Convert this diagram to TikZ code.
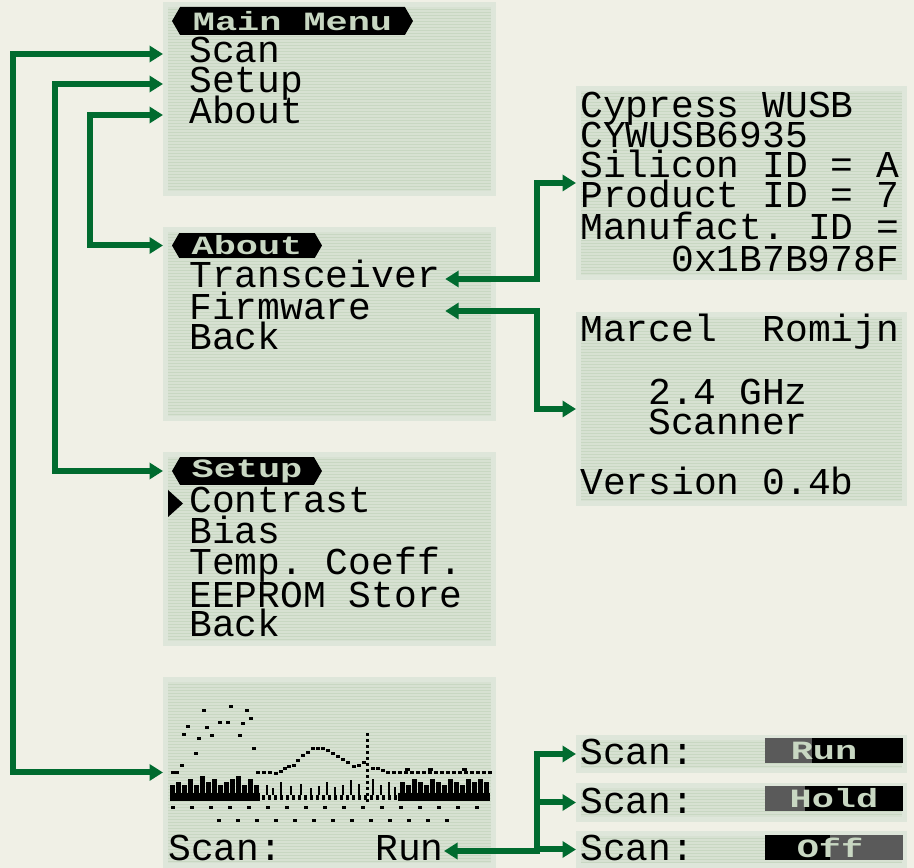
\documentclass[tikz,border=0pt]{standalone}
\usepackage{fontspec}
\newfontfamily\lcdfont{Liberation Mono}
\usepackage{tikz}
\usetikzlibrary{arrows.meta,calc}
\usetikzlibrary{positioning,shapes.symbols}
\definecolor{paper}{HTML}{F0F0E6}
\definecolor{lcdedge}{HTML}{DEE6DA}
\definecolor{lcdback}{HTML}{C8D7C2}
\definecolor{lcdline}{HTML}{D7E1D2}
\definecolor{lcdgray}{HTML}{5A5A5A}
\definecolor{menugreen}{HTML}{006B2F}

\begin{document}
\begin{tikzpicture}[x=0.02cm,y=-0.02cm,>={Triangle[length=0.27cm,width=0.32cm]},
  lcd/.style={fill=lcdedge,inner sep=0,outer sep=0,anchor=north west,
    path picture={
      \fill[lcdback] ([shift={(0.1cm,-0.1cm)}]path picture bounding box.north west)
        rectangle ([shift={(-0.1cm,0.1cm)}]path picture bounding box.south east);
      \clip ([shift={(0.1cm,-0.1cm)}]path picture bounding box.north west)
        rectangle ([shift={(-0.1cm,0.1cm)}]path picture bounding box.south east);
      \foreach \k in {1,...,66}
        \draw[lcdline,line width=0.025cm] ([yshift=-\k*0.06cm]path picture bounding box.north west) -- ++(7cm,0);
    }},
  txt/.style={font=\lcdfont\frenchspacing\fontsize{21.6}{24}\selectfont,anchor=base west,
    inner sep=0,text height=0.4cm,text depth=0.04cm},
  tab/.style={signal,signal to=west and east,signal pointer angle=120,fill=black,text=lcdback,
    inner sep=0,font=\lcdfont\bfseries\fontsize{15}{16}\selectfont},
  tag/.style={text=lcdback,inner sep=0,font=\lcdfont\bfseries\fontsize{15}{16}\selectfont},
  link/.style={draw=menugreen,line width=0.12cm}]

\path[use as bounding box,fill=paper] (0,0) rectangle (914,868);

% main menu
\node[lcd,minimum width=6.66cm,minimum height=3.88cm] (main) at (163,2) {};
\node[tab,minimum width=4.82cm,minimum height=0.56cm] (mainTab) at (292.5,21) {\scalebox{1.4}[1]{Main Menu}};
\node[txt] (mScan) at (189,63) {Scan};
\node[txt] (mSetup) at (189,93) {Setup};
\node[txt] (mAbout) at (189,124) {About};

% about menu
\node[lcd,minimum width=6.66cm,minimum height=3.88cm] (about) at (163,227) {};
\node[tab,minimum width=3cm,minimum height=0.5cm] (aboutTab) at (247,245.5) {\scalebox{1.4}[1]{About}};
\node[txt] (aTrans) at (189,288) {Transceiver};
\node[txt] (aFirm) at (189,320) {Firmware};
\node[txt] (aBack) at (189,350) {Back};

% setup menu
\node[lcd,minimum width=6.66cm,minimum height=3.88cm] (setup) at (163,452) {};
\node[tab,minimum width=3cm,minimum height=0.56cm] (setupTab) at (247,471) {\scalebox{1.4}[1]{Setup}};
\fill (168,490) -- (183,503.5) -- (168,517) -- cycle;
\node[txt] (sContrast) at (189,513) {Contrast};
\node[txt] (sBias) at (189,543) {Bias};
\node[txt] (sTemp) at (189,575) {Temp. Coeff.};
\node[txt] (sStore) at (189,607) {EEPROM Store};
\node[txt] (sBack) at (189,637) {Back};

% scan screen with spectrum
\node[lcd,minimum width=6.66cm,minimum height=3.82cm] (scanscr) at (163,677) {};
\foreach \gx/\gy in {202/709,229/705,245/709,249/717,186/725,205/726,218/721,226/721,241/722,
    182/733,197/737,210/734,238/734,194/752,252/747,180/764,171/771,175/771}
  \fill (\gx,\gy) rectangle ++(4,3);
\foreach \gx/\gy in {256/771,262/771,268/771,274/772,279/770,283/767,287/765,292/764,296/759,
    301/754,306/751,311/747,316/747,321/747,326/749,331/752,336/755,341/758,346/761,352/765,
    357/764,362/761,371/767,376/767,381/769,386/771}
  \fill (\gx,\gy) rectangle ++(4,3);
\foreach \gx in {392,398,...,488}
  \fill (\gx,771) rectangle ++(4,3);
\foreach \gx in {405,428,462}
  \fill (\gx,768) rectangle ++(5,3);
\foreach \gy in {733,739,...,800}
  \fill (366,\gy) rectangle ++(3,3);
\fill (170,793) rectangle (260,801);
\fill (398,793) rectangle (490,801);
\foreach \gx in {262,268,...,396}
  \fill (\gx,795) rectangle ++(3,5);
\foreach \gx/\gy in {170/785,176/782,182/785,188/779,194/785,200/776,206/782,212/779,218/785,
    224/782,230/779,236/776,242/785,248/779,254/785,
    400/782,406/785,412/779,418/782,424/785,430/779,436/782,442/785,448/779,454/782,
    460/785,466/779,472/782,478/779,484/782}
  \fill (\gx,\gy) rectangle (\gx+5,793);
\foreach \gx/\gy in {266/785,272/788,280/782,290/786,300/784,310/788,318/786,326/782,334/787,
    342/785,350/780,358/784,372/779,380/785,388/782,394/787}
  \fill (\gx,\gy) rectangle (\gx+2,795);
\foreach \gx in {171,190,...,490}
  \fill (\gx,806) rectangle ++(4,3);
\foreach \gx in {217,236,...,450}
  \fill (\gx,819) rectangle ++(4,3);
\node[txt] (gScan) at (168,860) {Scan:};
\node[txt] (gRun) at (375,860) {Run};

% transceiver info
\node[lcd,minimum width=6.62cm,minimum height=3.88cm] (cypress) at (576,86) {};
\node[txt] (cName) at (580,118) {Cypress WUSB};
\node[txt] (cChip) at (580,148) {CYWUSB6935};
\node[txt] (cSilicon) at (580,178) {Silicon ID = A};
\node[txt] (cProduct) at (580,208) {Product ID = 7};
\node[txt] (cManuf) at (580,240) {Manufact. ID =};
\node[txt] (cCode) at (671,272) {0x1B7B978F};

% firmware info
\node[lcd,minimum width=6.62cm,minimum height=3.88cm] (marcel) at (576,312) {};
\node[txt] (fAuthor) at (580,342) {Marcel~~Romijn};
\node[txt] (fFreq) at (648,405) {2.4 GHz};
\node[txt] (fScanner) at (648,435) {Scanner};
\node[txt] (fVersion) at (580,495) {Version 0.4b};

% scan states
\node[lcd,minimum width=6.62cm,minimum height=0.76cm] (stRun) at (576,735) {};
\node[txt] (rScan) at (580,765) {Scan:};
\fill[lcdgray] (765,738) rectangle (812,763);
\fill (812,738) rectangle (903,763);
\node[tag] (lRun) at (824,750.5) {\scalebox{1.4}[1]{Run}};
\node[lcd,minimum width=6.62cm,minimum height=0.78cm] (stHold) at (576,783) {};
\node[txt] (hScan) at (580,813) {Scan:};
\fill[lcdgray] (765,786) rectangle (805,811);
\fill (805,786) rectangle (903,811);
\node[tag] (lHold) at (834,798.5) {\scalebox{1.4}[1]{Hold}};
\node[lcd,minimum width=6.62cm,minimum height=0.74cm] (stOff) at (576,831) {};
\node[txt] (oScan) at (580,860) {Scan:};
\fill (765,835) rectangle (830,860);
\fill[lcdgray] (830,835) rectangle (903,860);
\node[tag] (lOff) at (830,847.5) {\scalebox{1.4}[1]{Off}};

% links
\coordinate (trunk) at (537,0);
\coordinate (tipT) at ([xshift=0.1cm]aTrans.east);
\draw[link,<->] (main.west |- mScan) -- ++(-150,0) |- (scanscr.west);
\draw[link,<->] (main.west |- mSetup) -- ++(-108,0) |- (setup.west |- setupTab);
\draw[link,<->] (main.west |- mAbout) -- ++(-73,0) |- (about.west |- aboutTab);
\draw[link,<->] (tipT) -- (trunk |- tipT) |- (cypress.west);
\draw[link,<->] (tipT |- aFirm) -- (trunk |- aFirm) |- (marcel.west);
\draw[link,<->] (gRun.east) -- (trunk |- gRun) |- (stRun.west);
\draw[link,->] (trunk |- stHold) -- (stHold.west);
\draw[link,->] (trunk |- stOff) -- (stOff.west);
\end{tikzpicture}
\end{document}
